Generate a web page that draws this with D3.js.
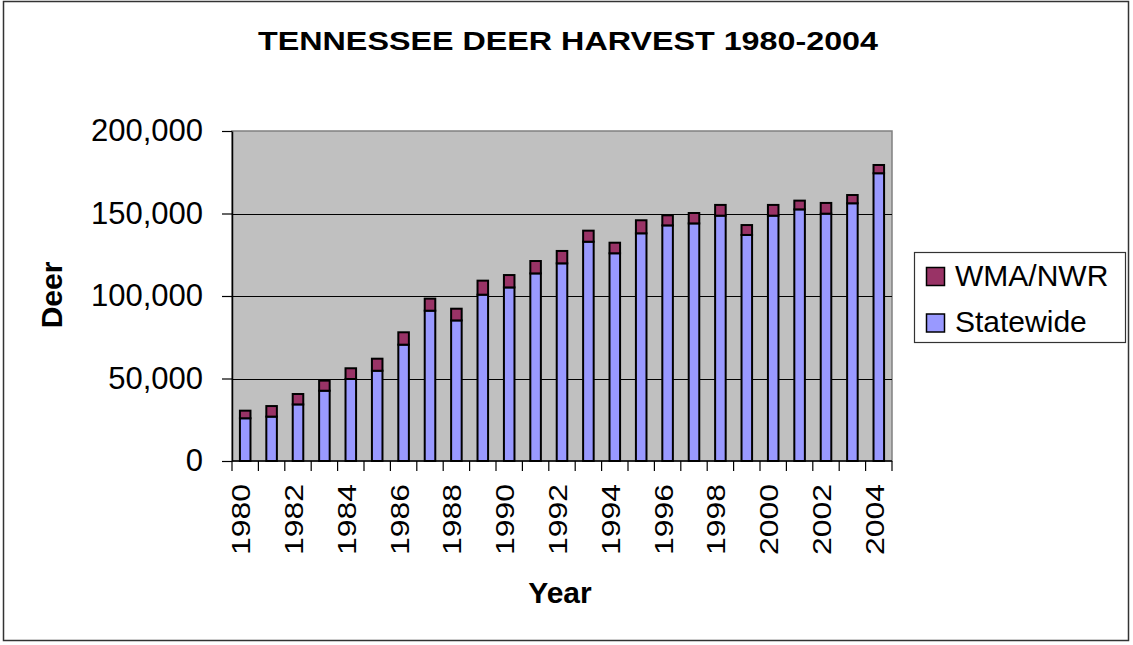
<!DOCTYPE html>
<html>
<head>
<meta charset="utf-8">
<script src="https://cdn.jsdelivr.net/npm/d3@7"></script>
<style>
  body { margin: 0; background: #fff; }
  svg text { font-family: Arial, "Liberation Sans", sans-serif; fill: #000; }
</style>
</head>
<body>
<svg id="chart" width="1133" height="645"></svg>
<script>
var years = ['1980','1981','1982','1983','1984','1985','1986','1987','1988','1989','1990','1991','1992',
             '1993','1994','1995','1996','1997','1998','1999','2000','2001','2002','2003','2004'];
var statewide = [25900, 26900, 34300, 42600, 49700, 54700, 70500, 91100, 85200, 100800, 105200, 113700, 119800,
                 132900, 125900, 138000, 142800, 144000, 148700, 137000, 148700, 152500, 149900, 156200, 174400];
var wmaNwr = [4600, 6400, 6300, 6100, 6500, 7300, 7500, 7300, 7100, 8500, 7500, 7500, 7500,
              6700, 6400, 7900, 6100, 6300, 6500, 6000, 6500, 5300, 6500, 5000, 5000];
var yTicks = [0, 50000, 100000, 150000, 200000];
var seriesNames = ['Statewide', 'WMA/NWR'];
var colors = { 'Statewide': '#9999FF', 'WMA/NWR': '#993366' };

var svg = d3.select('#chart');

// outer chart frame
svg.append('rect').attr('x', 3.5).attr('y', 1.5).attr('width', 1125).attr('height', 639)
  .attr('fill', '#fff').attr('stroke', '#333').attr('stroke-width', 1.5);

var plotLeft = 232, plotRight = 892, plotTop = 131, plotBottom = 461;

var x = d3.scaleBand().domain(years).range([plotLeft, plotRight]).paddingInner(0.6).paddingOuter(0.3);
var y = d3.scaleLinear().domain([0, 200000]).range([plotBottom, plotTop]);

// plot area
svg.append('rect').attr('x', plotLeft).attr('y', plotTop)
  .attr('width', plotRight - plotLeft).attr('height', plotBottom - plotTop)
  .attr('fill', '#C0C0C0').attr('stroke', '#808080').attr('stroke-width', 1.5);

svg.append('g').selectAll('line')
  .data(yTicks.slice(1, -1))
  .enter()
  .append('line')
  .attr('x1', plotLeft).attr('x2', plotRight)
  .attr('y1', function(d) { return Math.round(y(d)) + 0.5; })
  .attr('y2', function(d) { return Math.round(y(d)) + 0.5; })
  .attr('stroke', '#000').attr('stroke-width', 1);

// stacked bars
var rows = years.map(function(yr, i) {
  return { year: yr, 'Statewide': statewide[i], 'WMA/NWR': wmaNwr[i] };
});
var stacked = d3.stack().keys(seriesNames)(rows);

svg.append('g').selectAll('g')
  .data(stacked)
  .enter()
  .append('g')
  .attr('fill', function(d) { return colors[d.key]; })
  .selectAll('rect')
  .data(function(d) { return d; })
  .enter()
  .append('rect')
  .attr('x', function(d) { return x(d.data.year); })
  .attr('width', x.bandwidth())
  .attr('y', function(d) { return y(d[1]); })
  .attr('height', function(d) { return y(d[0]) - y(d[1]); })
  .attr('stroke', '#000').attr('stroke-width', 2);

// y axis
var yAxis = d3.axisLeft(y).tickValues(yTicks).tickSize(10).tickSizeOuter(0).tickPadding(19)
  .tickFormat(d3.format(','));
var gy = svg.append('g').attr('transform', 'translate(' + plotLeft + ',0)').call(yAxis);
gy.select('.domain').attr('stroke', '#000').attr('stroke-width', 1.5);
gy.selectAll('.tick line').attr('stroke', '#000').attr('stroke-width', 1.2);
gy.selectAll('.tick text').style('font-size', '31px').attr('fill', '#000')
  .style('font-family', 'Arial, "Liberation Sans", sans-serif');

// x axis, ticks between categories
var gx = svg.append('g');
gx.append('line').attr('x1', plotLeft).attr('x2', plotRight).attr('y1', plotBottom).attr('y2', plotBottom)
  .attr('stroke', '#000').attr('stroke-width', 1.5);
var step = x.step();
gx.selectAll('line.tk')
  .data(years.concat(['end']))
  .enter()
  .append('line')
  .attr('class', 'tk')
  .attr('x1', function(d, i) { return plotLeft + i * step; })
  .attr('x2', function(d, i) { return plotLeft + i * step; })
  .attr('y1', plotBottom).attr('y2', plotBottom + 10)
  .attr('stroke', '#000').attr('stroke-width', 1.2);

gx.selectAll('text')
  .data(years.filter(function(d, i) { return i % 2 === 0; }))
  .enter()
  .append('text')
  .attr('transform', function(d) {
    return 'translate(' + (x(d) + x.bandwidth() / 2 + 5) + ',484) rotate(-90)';
  })
  .attr('text-anchor', 'end')
  .attr('textLength', 71)
  .attr('lengthAdjust', 'spacingAndGlyphs')
  .style('font-size', '26px')
  .text(function(d) { return d; });

// titles
svg.append('text').attr('x', 568).attr('y', 50).attr('text-anchor', 'middle')
  .attr('textLength', 620).attr('lengthAdjust', 'spacingAndGlyphs')
  .style('font-size', '26px').style('font-weight', 'bold')
  .text('TENNESSEE DEER HARVEST 1980-2004');

svg.append('text').attr('x', 560).attr('y', 603).attr('text-anchor', 'middle')
  .style('font-size', '30px').style('font-weight', 'bold').text('Year');

svg.append('text').attr('transform', 'translate(62,295) rotate(-90)').attr('text-anchor', 'middle')
  .style('font-size', '30px').style('font-weight', 'bold').text('Deer');

// legend, top entry is the top of the stack
var legend = svg.append('g');
legend.append('rect').attr('x', 914.5).attr('y', 252.5).attr('width', 211).attr('height', 90)
  .attr('fill', '#fff').attr('stroke', '#333').attr('stroke-width', 1.2);

var legendItems = seriesNames.slice().reverse();
var item = legend.selectAll('g.item')
  .data(legendItems)
  .enter()
  .append('g')
  .attr('class', 'item')
  .attr('transform', function(d, i) { return 'translate(0,' + (i * 46.5) + ')'; });

item.append('rect').attr('x', 926.5).attr('y', 267.5).attr('width', 18).attr('height', 18)
  .attr('fill', function(d) { return colors[d]; })
  .attr('stroke', '#000').attr('stroke-width', 1.5);

item.append('text').attr('x', 955).attr('y', 285.5)
  .style('font-size', '30px')
  .text(function(d) { return d; });
</script>
</body>
</html>
